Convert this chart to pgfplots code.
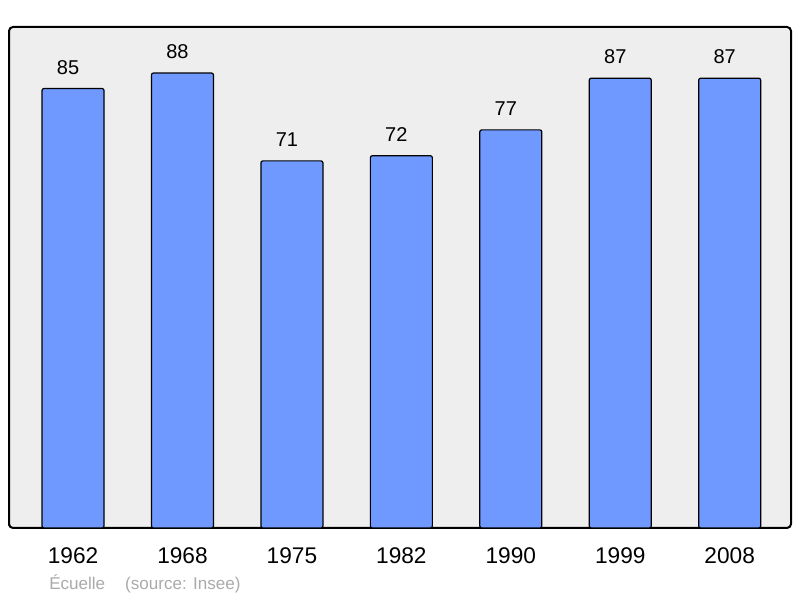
\documentclass[border=0pt]{standalone}
\usepackage{pgfplots}
\pgfplotsset{compat=1.18}
\usepackage{fontspec}
\setmainfont{Liberation Sans}
\definecolor{barblue}{HTML}{7099FF}
\definecolor{bggray}{HTML}{EEEEEE}
\definecolor{srcgray}{HTML}{AAAAAA}
\begin{document}
\begin{tikzpicture}
\useasboundingbox (0,0) rectangle (600pt,448.5pt);
\begin{axis}[
  at={(6.75pt,52.5pt)}, anchor=south west,
  scale only axis, width=586.5pt, height=375.75pt,
  xmin=-0.585, xmax=6.56, ymin=0, ymax=96.9,
  /pgf/number format/assume math mode=true,
  axis line style={line width=1.5pt, rounded corners=3pt},
  axis background/.style={fill=bggray, rounded corners=3pt},
  ytick=\empty,
  xtick={0,1,2,3,4,5,6},
  xticklabels={1962,1968,1975,1982,1990,1999,2008},
  major tick length=0pt,
  xticklabel style={font=\fontsize{17}{17}\selectfont, anchor=center, yshift=-21pt},
  ybar, bar width=46.5pt, bar shift=0pt,
  nodes near coords,
  every node near coord/.append style={font=\fontsize{15}{15}\selectfont, anchor=center, yshift=16pt, xshift=-3.75pt},
  clip=false,
]
\addplot[fill=barblue, draw=black, line width=0.9pt, rounded corners=1.5pt]
  coordinates {(0,85) (1,88) (2,71) (3,72) (4,77) (5,87) (6,87)};
\end{axis}
\node[anchor=west, text=srcgray, font=\fontsize{12.8}{12.8}\selectfont, inner sep=0pt] at (36.75pt,10.5pt) {Écuelle\hspace{15pt}(source: Insee)};
\end{tikzpicture}
\end{document}
